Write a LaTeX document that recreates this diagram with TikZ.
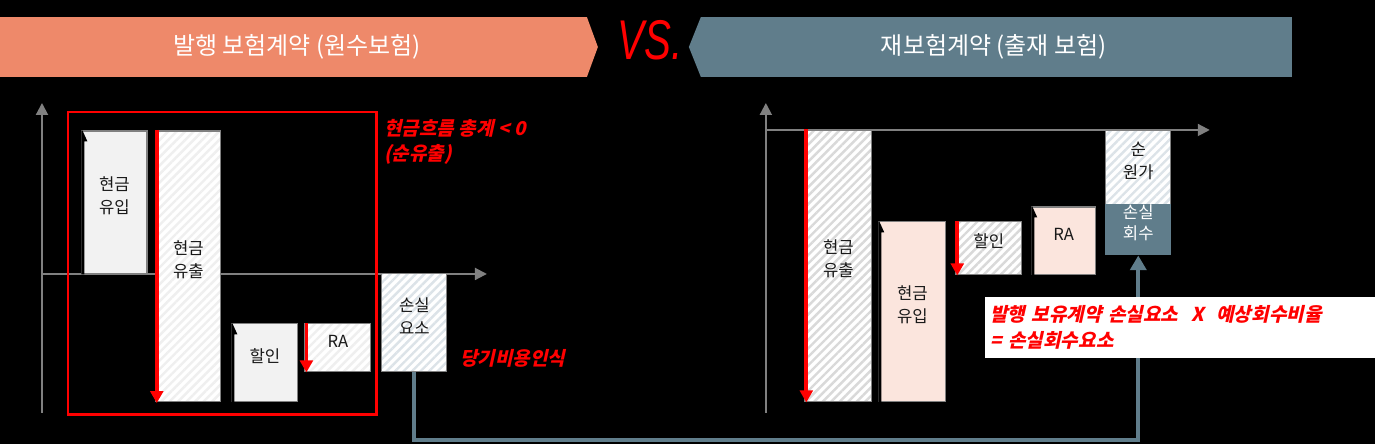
\documentclass[tikz,border=0pt]{standalone}
\usepackage{fontspec}
\setmainfont{Noto Sans CJK KR}
\newfontfamily\notefont[FakeSlant=0.22, BoldFeatures={FakeSlant=0.22}]{Noto Sans CJK KR}
\newfontfamily\vsfont{Liberation Sans}
\usetikzlibrary{arrows.meta, positioning, fit, patterns.meta}
\definecolor{issueorange}{HTML}{EE896A}
\definecolor{reslate}{HTML}{607D8B}
\definecolor{boxgray}{HTML}{F2F2F2}
\definecolor{boxpink}{HTML}{FBE5DD}
\definecolor{stripegray}{HTML}{D9D9D9}
\definecolor{stripepale}{HTML}{EFEFEF}
\definecolor{stripeblue}{HTML}{DCE3E8}
\definecolor{axisgray}{HTML}{808080}
\definecolor{notered}{HTML}{FF0000}
\tikzset{
  bar/.style={draw=axisgray, line width=0.8pt, inner sep=0pt, align=center,
    text=black!90, font=\fontsize{12.5}{17.5}\selectfont},
  solidbar/.style={bar, fill=#1},
  hatchbar/.style={bar, preaction={fill=white},
    pattern={Lines[angle=45,distance=4.5pt,line width=1.8pt]}, pattern color=#1},
  axis/.style={draw=axisgray, line width=1.5pt, -{Triangle[length=9pt,width=9pt]}},
  drop/.style={draw=notered, line width=2.8pt, -{Triangle[length=9pt,width=9.5pt]}},
  link/.style={draw=reslate, line width=3pt, -{Triangle[length=11pt,width=12pt]}},
  headtext/.style={text=white, font=\fontsize{18}{22}\selectfont},
  note/.style={text=notered, align=left, inner sep=0pt,
    font=\notefont\bfseries\fontsize{14.3}{19}\selectfont},
}
% 왼쪽 위 모서리 홈
\newcommand{\notch}[1]{\fill[black] (#1.north west) -- ++(1,0) -- ++(5,11) -- ++(-3,0) |- (#1.south west) -- cycle;}
\begin{document}
\begin{tikzpicture}[x=0.75pt, y=-0.75pt]
    \fill[black] (0,0) rectangle (1375,444);
    % 제목 띠
    \fill[issueorange] (0,17) -- (587,17) -- (598,47) -- (587,77) -- (0,77) -- cycle;
    \node[headtext] (issuehead) at (297,47) {발행 보험계약 (원수보험)};
    \node[text=notered, font=\vsfont\itshape\fontsize{42}{42}\selectfont, xscale=0.72, inner sep=0pt] (vs) at (650,40) {VS.};
    \fill[reslate] (701,17) -- (1292,17) -- (1292,77) -- (701,77) -- (689,47) -- cycle;
    \node[headtext] (reinshead) at (994,47) {재보험계약 (출재 보험)};

    % 발행 보험계약 그래프
    \draw[axis] (42,413) -- (42,103);
    \draw[axis] (42,274) -- (487,274);
    \node[solidbar=boxgray, fit={(82,131)(147,274)}] (inflowA) {현금\\유입};
    \notch{inflowA}
    \node[hatchbar=stripepale, fit={(156,131)(221,402)}] (outflowA) {현금\\유출};
    \node[solidbar=boxgray, fit={(232,324)(298,402)}] (discA) {할인};
    \notch{discA}
    \node[hatchbar=stripepale, fit={(305,324)(371,372)}] (raA) {RA};
    \node[hatchbar=stripeblue, fit={(382,274)(447,372)}] (lossA) {손실\\요소};
    \draw[drop] ([shift={(2,0)}]outflowA.north west) -- ([shift={(2,0)}]outflowA.south west);
    \draw[drop] ([shift={(2,0)}]raA.north west) -- ([shift={(2,0)}]raA.south west);
    \node[draw=notered, line width=2.2pt, inner sep=0pt, fit={(68,112)(377,415)}] (netframe) {};
    \node[note, anchor=north west] (netnote) at (384,119) {현금흐름 총계 < 0\\(순유출)};
    \node[note, anchor=west] (expnote) at (460,358) {당기비용인식};

    % 재보험계약 그래프
    \draw[axis] (766,413) -- (766,103);
    \draw[axis] (766,130) -- (1210,130);
    \node[hatchbar=stripegray, fit={(805,130)(872,402)}] (outflowB) {현금\\유출};
    \node[solidbar=boxpink, fit={(879,222)(946,402)}] (inflowB) {현금\\유입};
    \notch{inflowB}
    \node[hatchbar=stripegray, fit={(956,222)(1022,275)}] (discB) {할인};
    \node[solidbar=boxpink, fit={(1032,207)(1096,275)}] (raB) {RA};
    \notch{raB}
    \node[hatchbar=stripeblue, fit={(1106,130)(1171,205)}] (costB) {순\\원가};
    \node[solidbar=reslate, draw=reslate, text=white, font=\fontsize{12.5}{15.5}\selectfont,
        fit={(1106,205)(1171,255)}] (recovB) {손실\\회수};
    \draw[drop] ([shift={(2,0)}]outflowB.north west) -- ([shift={(2,0)}]outflowB.south west);
    \draw[drop] ([shift={(2,0)}]discB.north west) -- ([shift={(2,0)}]discB.south west);

    % 손실요소 -> 손실회수
    \coordinate (bend) at (0,440);
    \draw[link] (lossA.south) -- (lossA.south |- bend) -| (recovB.south);
    \node[note, fill=white, anchor=west, minimum height=45.75pt, text width=284.5pt, inner xsep=4pt] (recovnote) at (985,327.5)
        {발행 보유계약 손실요소 \ X \ 예상회수비율\\= 손실회수요소};
\end{tikzpicture}
\end{document}
